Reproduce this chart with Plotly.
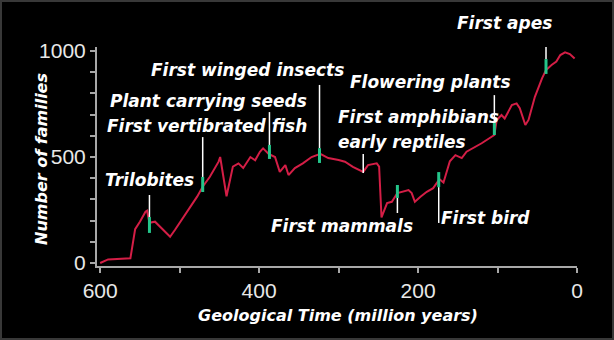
import plotly.graph_objects as go

# ---- data ----
age_myr = [600, 590, 562, 558, 556, 550, 543, 541, 538, 531, 522, 512, 506, 499, 487, 478,
           471, 462, 451, 449, 441, 433, 426, 420, 411, 405, 399, 395, 388, 380, 374, 367,
           363, 355, 345, 334, 323, 313, 300, 292, 282, 269, 263, 252, 249, 246, 239, 233,
           226, 220, 212, 208, 204, 197, 189, 181, 173, 168, 160, 153, 145, 139, 120, 104,
           101, 95, 91, 82, 76, 72, 65, 61, 53, 44, 39, 32, 26, 21, 15, 9, 3]
families = [0, 17, 22, 108, 160, 195, 242, 247, 190, 195, 160, 124, 156, 195, 266, 313,
            360, 407, 478, 500, 315, 455, 470, 448, 500, 485, 525, 541, 515, 500, 430, 462,
            415, 448, 470, 500, 515, 495, 486, 478, 454, 430, 462, 470, 455, 215, 283, 289,
            330, 336, 344, 330, 289, 313, 336, 353, 395, 380, 480, 509, 495, 525, 565, 604,
            675, 698, 682, 745, 753, 730, 651, 675, 784, 871, 910, 934, 950, 981, 994, 986, 965]

event_names = ["Trilobites", "First vertibrated fish", "Plant carrying seeds",
               "First winged insects", "early reptiles", "First mammals", "First bird",
               "Flowering plants", "First apes"]
event_age = [538, 471, 387, 324, 269, 226, 174, 104, 39]
# white pointer range and green bar range (families)
pointer_from = [321, 594, 712, 840, 514, 236, 189, 792, 1075]
pointer_to = [217, 406, 557, 542, 425, 307, 358, 665, 962]
bar_from = [217, 406, 557, 542, None, 368, 429, 665, 962]
bar_to = [142, 335, 491, 472, None, 307, 358, 604, 892]

x_ticks = [600, 400, 200, 0]
y_ticks = [0, 500, 1000]

# ---- layout geometry (pixels) ----
W, H = 614, 340
L, R, T, B = 97, 37, 47, 74
PW, PH = W - L - R, H - T - B


def px2paper(px, py):
    return (px - L) / PW, (H - B - py) / PH


RED = "#d41e46"
GREEN = "#24c58a"
AXIS = "#a8a8a8"
LABEL_FONT = dict(family="DejaVu Sans", size=17, color="white", weight="bold", style="italic")

fig = go.Figure()
fig.add_trace(go.Scatter(x=age_myr, y=families, mode="lines",
                         line=dict(color=RED, width=2), hoverinfo="skip", showlegend=False))

shapes = []
for a, p0, p1, b0, b1 in zip(event_age, pointer_from, pointer_to, bar_from, bar_to):
    shapes.append(dict(type="line", xref="x", yref="y", x0=a, x1=a, y0=p0, y1=p1,
                       line=dict(color="white", width=1.5), layer="above"))
    if b0 is not None:
        shapes.append(dict(type="line", xref="x", yref="y", x0=a, x1=a, y0=b0, y1=b1,
                           line=dict(color=GREEN, width=3), layer="above"))

# image border
bx0, by0 = px2paper(1, 339)
bx1, by1 = px2paper(613, 1)
shapes.append(dict(type="rect", xref="paper", yref="paper", x0=bx0, x1=bx1, y0=by0, y1=by1,
                   line=dict(color="#383838", width=2), layer="above"))

label_pos = {
    "Trilobites": (149, 180, "center"),
    "First vertibrated fish": (207, 126, "center"),
    "Plant carrying seeds": (208, 101, "center"),
    "First winged insects": (247, 70, "center"),
    "First amphibians": (336, 117, "left"),
    "early reptiles": (336, 142, "left"),
    "First mammals": (342, 226, "center"),
    "First bird": (485, 218, "center"),
    "Flowering plants": (430, 82, "center"),
    "First apes": (504, 23, "center"),
}
annotations = []
for text, (px, py, anc) in label_pos.items():
    xp, yp = px2paper(px, py)
    annotations.append(dict(text=text, x=xp, y=yp, xref="paper", yref="paper",
                            xanchor=anc, yanchor="middle", showarrow=False, font=LABEL_FONT))

xp, yp = px2paper(338, 315)
annotations.append(dict(text="Geological Time (million years)", x=xp, y=yp, xref="paper",
                        yref="paper", xanchor="center", yanchor="middle", showarrow=False,
                        font=dict(family="DejaVu Sans", size=16, color="white",
                                  weight="bold", style="italic")))
xp, yp = px2paper(41, 159)
annotations.append(dict(text="Number of families", x=xp, y=yp, xref="paper", yref="paper",
                        xanchor="center", yanchor="middle", showarrow=False, textangle=-90,
                        font=dict(family="DejaVu Sans", size=16, color="white",
                                  weight="bold", style="italic")))

TICK_FONT = dict(family="Liberation Sans", size=21, color="#e8e8e8")

fig.update_layout(
    width=W, height=H,
    margin=dict(l=L, r=R, t=T, b=B, pad=0),
    paper_bgcolor="black", plot_bgcolor="black",
    shapes=shapes, annotations=annotations,
    xaxis=dict(range=[604, 0], tickvals=x_ticks, ticktext=[str(v) for v in x_ticks],
               showgrid=False, zeroline=False, showline=True, linecolor=AXIS, linewidth=2,
               ticks="outside", ticklen=5, tickcolor=AXIS, tickwidth=1.5, tickfont=TICK_FONT,
               minor=dict(tickvals=[500, 300, 100], ticks="outside", ticklen=5,
                          tickcolor=AXIS, tickwidth=1.5),
               fixedrange=True),
    yaxis=dict(range=[-14, 1019], tickvals=y_ticks, ticktext=[str(v) for v in y_ticks],
               showgrid=False, zeroline=False, showline=True, linecolor=AXIS, linewidth=2,
               ticks="outside", ticklen=5, tickcolor=AXIS, tickwidth=1.5, tickfont=TICK_FONT,
               minor=dict(dtick=100, ticks="outside", ticklen=5, tickcolor=AXIS, tickwidth=1.5),
               fixedrange=True),
)

fig.write_html("out.html")
